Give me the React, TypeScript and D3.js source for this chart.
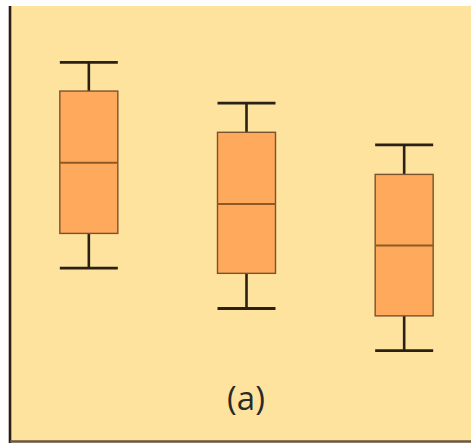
import React from "react";
import * as d3 from "d3";

// Box-plot summaries per group
const groups = ["A", "B", "C"];
const whiskerHigh = [87.0, 77.6, 68.0];
const upperQuartile = [80.4, 70.9, 61.2];
const medians = [63.9, 54.4, 44.8];
const lowerQuartile = [47.6, 38.4, 28.6];
const whiskerLow = [39.6, 30.3, 20.6];
const panelLabel = "(a)";

const W = 471;
const H = 443;

export default function App() {
  const x = d3.scalePoint<string>().domain(groups).range([10, 483]).padding(0.5);
  const y = d3.scaleLinear().domain([0, 100]).range([440, 6]);
  const boxW = 58;

  const rows = groups.map((g, i) => ({
    g,
    hi: whiskerHigh[i],
    q3: upperQuartile[i],
    med: medians[i],
    q1: lowerQuartile[i],
    lo: whiskerLow[i],
  }));

  return (
    <svg
      width={W}
      height={H}
      style={{ position: "absolute", left: 0, top: 0 }}
    >
      <rect x={0} y={0} width={W} height={H} fill="#ffffff" />
      <rect x={10} y={6} width={W - 10} height={435} fill="#fee39e" />
      {rows.map((r) => {
        const cx = x(r.g) as number;
        return (
          <g key={r.g}>
            {/* whiskers */}
            <line x1={cx} x2={cx} y1={y(r.hi)} y2={y(r.q3)} stroke="#2a2016" strokeWidth={2.6} />
            <line x1={cx} x2={cx} y1={y(r.q1)} y2={y(r.lo)} stroke="#2a2016" strokeWidth={2.6} />
            <line x1={cx - boxW / 2} x2={cx + boxW / 2} y1={y(r.hi)} y2={y(r.hi)} stroke="#2a2016" strokeWidth={2.8} />
            <line x1={cx - boxW / 2} x2={cx + boxW / 2} y1={y(r.lo)} y2={y(r.lo)} stroke="#2a2016" strokeWidth={2.8} />
            {/* box */}
            <rect
              x={cx - boxW / 2}
              y={y(r.q3)}
              width={boxW}
              height={y(r.q1) - y(r.q3)}
              fill="#fea95b"
              stroke="#7a5230"
              strokeWidth={1.4}
            />
            <line
              x1={cx - boxW / 2}
              x2={cx + boxW / 2}
              y1={y(r.med)}
              y2={y(r.med)}
              stroke="#8f5a22"
              strokeWidth={2}
            />
          </g>
        );
      })}
      {/* axes */}
      <line x1={10} x2={10} y1={6} y2={H} stroke="#2a1e16" strokeWidth={2.6} />
      <line x1={10} x2={W} y1={441.5} y2={441.5} stroke="#6a5640" strokeWidth={2.5} />
      <text
        x={246}
        y={410}
        textAnchor="middle"
        fontFamily="'Open Sans', sans-serif"
        fontSize={33}
        fill="#2a2a2a"
      >
        {panelLabel}
      </text>
    </svg>
  );
}
